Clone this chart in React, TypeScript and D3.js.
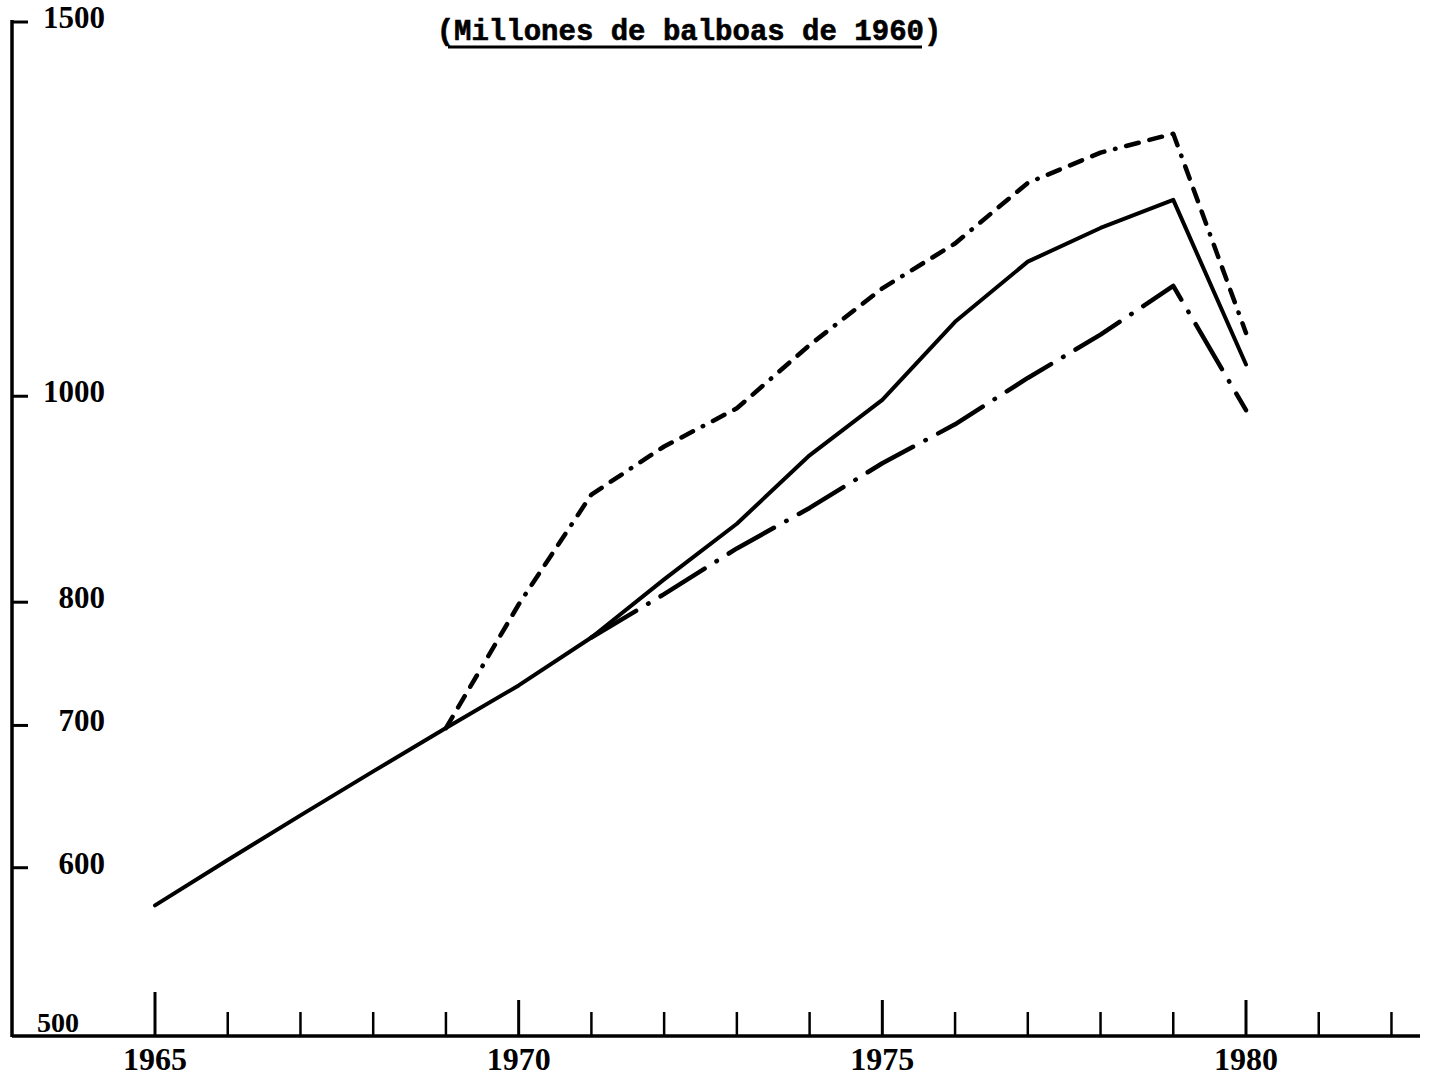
import React from "react";
import * as d3 from "d3";

const years = [1965, 1966, 1967, 1968, 1969, 1970, 1971, 1972, 1973, 1974, 1975, 1976, 1977, 1978, 1979, 1980];
const solidValues = [576, 605, 635, 666, 698, 731, 770, 820, 871, 938, 996, 1084, 1157, 1200, 1237, 1035];
const upperYears = [1969, 1970, 1971, 1972, 1973, 1974, 1975, 1976, 1977, 1978, 1979, 1980];
const upperValues = [698, 798, 899, 947, 987, 1057, 1124, 1180, 1260, 1302, 1329, 1071];
const lowerYears = [1971, 1972, 1973, 1974, 1975, 1976, 1977, 1978, 1979, 1980];
const lowerValues = [770, 807, 848, 886, 930, 970, 1020, 1069, 1127, 985];
const yTicks = [1500, 1000, 800, 700, 600, 500];
const xTickYears = [1965, 1966, 1967, 1968, 1969, 1970, 1971, 1972, 1973, 1974, 1975, 1976, 1977, 1978, 1979, 1980, 1981, 1982];
const xLabels = [1965, 1970, 1975, 1980];
const title = "(Millones de balboas de 1960)";

const W = 1434;
const H = 1079;

export default function App() {
  const x = d3.scaleLinear().domain([1965, 1980]).range([155, 1246]);
  const y = d3.scaleLog().domain([500, 1500]).range([1036, 22]);
  const axisX = 12;
  const axisY = 1036;

  const line = d3
    .line<[number, number]>()
    .x((d) => x(d[0]))
    .y((d) => y(d[1]));

  const solid = line(years.map((yr, i) => [yr, solidValues[i]] as [number, number]));
  const upper = line(upperYears.map((yr, i) => [yr, upperValues[i]] as [number, number]));
  const lower = line(lowerYears.map((yr, i) => [yr, lowerValues[i]] as [number, number]));

  const numFont = "'Liberation Serif', 'DejaVu Serif', serif";

  return (
    <svg width={W} height={H} style={{ position: "absolute", left: 0, top: 0, background: "#fff" }}>
      <rect x={0} y={0} width={W} height={H} fill="#fff" />
      {/* title */}
      <text
        x={689}
        y={40}
        textAnchor="middle"
        fontFamily="'Liberation Mono', 'DejaVu Sans Mono', monospace"
        fontWeight="bold"
        fontSize={29}
        fill="#000"
        stroke="#000"
        strokeWidth={0.6}
      >
        {title}
      </text>
      <line x1={448} x2={922} y1={47} y2={47} stroke="#000" strokeWidth={3} />

      {/* y axis */}
      <line x1={axisX} x2={axisX} y1={y(1500) - 2} y2={axisY + 1} stroke="#000" strokeWidth={3.5} />
      {yTicks
        .filter((v) => v !== 500)
        .map((v) => (
          <line key={"yt" + v} x1={axisX} x2={axisX + 16} y1={y(v)} y2={y(v)} stroke="#000" strokeWidth={3} />
        ))}
      {yTicks.map((v) => (
        <text
          key={"yl" + v}
          x={v === 500 ? 79 : 105}
          y={v === 500 ? y(v) - 4 : y(v) + 6}
          textAnchor="end"
          fontFamily={numFont}
          fontWeight="bold"
          fontSize={v === 500 ? 28 : 31}
          fill="#000"
        >
          {v}
        </text>
      ))}

      {/* x axis */}
      <line x1={axisX} x2={1420} y1={axisY} y2={axisY} stroke="#000" strokeWidth={3.5} />
      {xTickYears.map((yr) => {
        const major = yr % 5 === 0;
        const len = yr === 1965 ? 44 : major ? 36 : 24;
        return (
          <line
            key={"xt" + yr}
            x1={x(yr)}
            x2={x(yr)}
            y1={axisY}
            y2={axisY - len}
            stroke="#000"
            strokeWidth={major ? 3 : 2.5}
          />
        );
      })}
      {xLabels.map((yr) => (
        <text
          key={"xl" + yr}
          x={x(yr)}
          y={axisY + 34}
          textAnchor="middle"
          fontFamily={numFont}
          fontWeight="bold"
          fontSize={32}
          fill="#000"
        >
          {yr}
        </text>
      ))}

      {/* series */}
      <path
        d={upper || ""}
        fill="none"
        stroke="#000"
        strokeWidth={4.5}
        strokeLinecap="round"
        strokeLinejoin="round"
        strokeDasharray="13 11 13 11 13 11 0.5 11"
      />
      <path
        d={lower || ""}
        fill="none"
        stroke="#000"
        strokeWidth={4.5}
        strokeLinecap="round"
        strokeLinejoin="round"
        strokeDasharray="52 14 0.5 14"
      />
      <path d={solid || ""} fill="none" stroke="#000" strokeWidth={4} strokeLinejoin="round" strokeLinecap="round" />
    </svg>
  );
}
